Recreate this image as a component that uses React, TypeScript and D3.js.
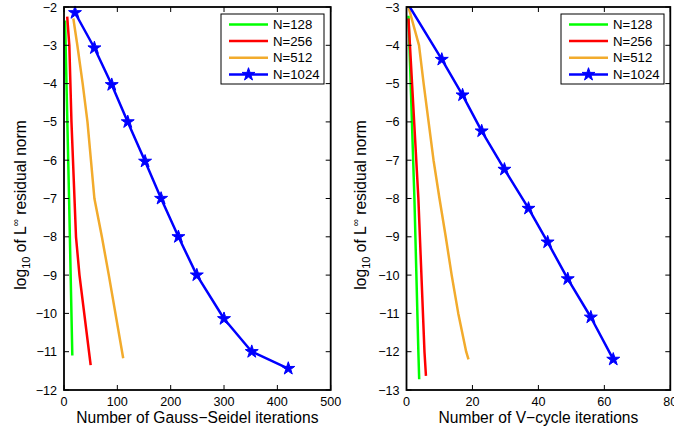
import React from "react";
import * as d3 from "d3";

// ---------- data ----------
const seriesNames = ["N=128", "N=256", "N=512", "N=1024"];
const seriesColors = ["#00ff00", "#ff0000", "#f2ab2c", "#0000ff"];

// Gauss-Seidel (left)
const gs128X = [2, 9.5, 15.6];
const gs128Y = [-2.35, -7, -11.1];
const gs256X = [6, 10, 14, 22.5, 29, 50];
const gs256Y = [-2.25, -3, -5, -8, -9, -11.35];
const gs512X = [17.5, 25, 35, 44, 50.5, 57, 71, 84, 111];
const gs512Y = [-2.3, -3, -4, -5, -6, -7, -8, -9, -11.17];
const gs1024X = [20.6, 57, 89.5, 119.5, 152, 182, 214.5, 249, 300, 352, 420.5];
const gs1024Y = [-2.15, -3.07, -4.03, -5.0, -6.03, -7.0, -8.0, -9.0, -10.14, -11.0, -11.44];

// V-cycle (right)
const vc128X = [0.6, 2.4, 3.6, 3.85];
const vc128Y = [-3.23, -8, -12, -12.72];
const vc256X = [0.6, 3.6, 5.45, 5.9];
const vc256Y = [-3.3, -8, -12, -12.63];
const vc512X = [0.6, 3.8, 5.2, 6.7, 8.2, 10, 11.9, 13.7, 15.7, 18.1, 18.8];
const vc512Y = [-3.0, -4, -5, -6, -7, -8, -9, -10, -11, -12, -12.2];
const vc1024X = [0.5, 10.7, 17, 22.8, 29.7, 37, 42.8, 48.9, 55.9, 62.7];
const vc1024Y = [-2.93, -4.37, -5.3, -6.24, -7.24, -8.26, -9.14, -10.1, -11.1, -12.2];

const gsXTicks = [0, 100, 200, 300, 400, 500];
const gsYTicks = [-12, -11, -10, -9, -8, -7, -6, -5, -4, -3, -2];
const vcXTicks = [0, 20, 40, 60, 80];
const vcYTicks = [-13, -12, -11, -10, -9, -8, -7, -6, -5, -4, -3];

const gsXLabel = "Number of Gauss\u2212Seidel iterations";
const vcXLabel = "Number of V\u2212cycle iterations";

const FONT = "'Liberation Sans', Arial, Helvetica, sans-serif";

type Series = { xs: number[]; ys: number[]; color: string; name: string; marker: boolean };

function fmt(v: number) {
  return v < 0 ? "\u2212" + Math.abs(v) : String(v);
}

function Panel(props: {
  id: string;
  x0: number;
  x1: number;
  xDomain: [number, number];
  yDomain: [number, number];
  xTicks: number[];
  yTicks: number[];
  series: Series[];
  xLabel: string;
  yLabelX: number;
  legendX: number;
}) {
  const top = 7;
  const bottom = 390;
  const x = d3.scaleLinear().domain(props.xDomain).range([props.x0, props.x1]);
  const y = d3.scaleLinear().domain(props.yDomain).range([bottom, top]);
  const line = d3
    .line<[number, number]>()
    .x((d) => x(d[0]))
    .y((d) => y(d[1]));
  const star = d3.symbol().type(d3.symbolStar).size(52)();
  const tl = 5;
  const legendW = 103;
  const legendH = 70;
  const lx = props.legendX;
  const ly = 14;
  const rowY = [24.5, 41, 57.7, 74.5];
  return (
    <g>
      <defs>
        <clipPath id={props.id}>
          <rect x={props.x0} y={top} width={props.x1 - props.x0} height={bottom - top} />
        </clipPath>
      </defs>
      {/* series */}
      <g clipPath={`url(#${props.id})`}>
        {props.series.map((s, i) => (
          <path
            key={i}
            d={line(s.xs.map((v, j) => [v, s.ys[j]] as [number, number])) || ""}
            fill="none"
            stroke={s.color}
            strokeWidth={2.5}
            strokeLinejoin="round"
          />
        ))}
      </g>
      {props.series
        .filter((s) => s.marker)
        .map((s, i) => (
          <g key={"m" + i}>
            {s.xs.map((v, j) =>
              s.ys[j] <= props.yDomain[1] ? (
                <path
                  key={j}
                  d={star || ""}
                  transform={`translate(${x(v)},${y(s.ys[j])})`}
                  fill={s.color}
                  stroke={s.color}
                  strokeWidth={1}
                />
              ) : null
            )}
          </g>
        ))}
      {/* axes box */}
      <rect
        x={props.x0}
        y={top}
        width={props.x1 - props.x0}
        height={bottom - top}
        fill="none"
        stroke="#000"
        strokeWidth={1.8}
      />
      {props.xTicks.map((t) => (
        <g key={"xt" + t}>
          <line x1={x(t)} x2={x(t)} y1={bottom} y2={bottom - tl} stroke="#000" strokeWidth={1} />
          <line x1={x(t)} x2={x(t)} y1={top} y2={top + tl} stroke="#000" strokeWidth={1} />
          <text x={x(t)} y={405.5} textAnchor="middle" fontSize={12.6} fontFamily={FONT} fill="#000">
            {fmt(t)}
          </text>
        </g>
      ))}
      {props.yTicks.map((t) => (
        <g key={"yt" + t}>
          <line x1={props.x0} x2={props.x0 + tl} y1={y(t)} y2={y(t)} stroke="#000" strokeWidth={1} />
          <line x1={props.x1} x2={props.x1 - tl} y1={y(t)} y2={y(t)} stroke="#000" strokeWidth={1} />
          <text
            x={props.x0 - 7}
            y={y(t) + 4.5}
            textAnchor="end"
            fontSize={12.6}
            fontFamily={FONT}
            fill="#000"
          >
            {fmt(t)}
          </text>
        </g>
      ))}
      {/* x label */}
      <text
        x={(props.x0 + props.x1) / 2}
        y={422.5}
        textAnchor="middle"
        fontSize={15.6}
        fontFamily={FONT}
        fill="#000"
      >
        {props.xLabel}
      </text>
      {/* y label */}
      <text
        transform={`translate(${props.yLabelX},205) rotate(-90)`}
        textAnchor="middle"
        fontSize={15.6}
        fontFamily={FONT}
        fill="#000"
      >
        log
        <tspan fontSize={11} dy={4}>
          10
        </tspan>
        <tspan dy={-4}> of L</tspan>
        <tspan fontSize={10} dy={-7}>
          {"\u221e"}
        </tspan>
        <tspan dy={7}> residual norm</tspan>
      </text>
      {/* legend */}
      <rect x={lx} y={ly} width={legendW} height={legendH} fill="#fff" stroke="#000" strokeWidth={1} />
      {props.series.map((s, i) => (
        <g key={"lg" + i}>
          <line
            x1={lx + 8}
            x2={lx + 47}
            y1={rowY[i]}
            y2={rowY[i]}
            stroke={s.color}
            strokeWidth={2.5}
          />
          {s.marker ? (
            <path
              d={star || ""}
              transform={`translate(${lx + 27.5},${rowY[i]})`}
              fill={s.color}
              stroke={s.color}
              strokeWidth={1}
            />
          ) : null}
          <text x={lx + 52} y={rowY[i] + 4.6} fontSize={13.2} fontFamily={FONT} fill="#000">
            {s.name}
          </text>
        </g>
      ))}
    </g>
  );
}

export default function App() {
  const gsSeries: Series[] = [
    { xs: gs128X, ys: gs128Y, color: seriesColors[0], name: seriesNames[0], marker: false },
    { xs: gs256X, ys: gs256Y, color: seriesColors[1], name: seriesNames[1], marker: false },
    { xs: gs512X, ys: gs512Y, color: seriesColors[2], name: seriesNames[2], marker: false },
    { xs: gs1024X, ys: gs1024Y, color: seriesColors[3], name: seriesNames[3], marker: true },
  ];
  const vcSeries: Series[] = [
    { xs: vc128X, ys: vc128Y, color: seriesColors[0], name: seriesNames[0], marker: false },
    { xs: vc256X, ys: vc256Y, color: seriesColors[1], name: seriesNames[1], marker: false },
    { xs: vc512X, ys: vc512Y, color: seriesColors[2], name: seriesNames[2], marker: false },
    { xs: vc1024X, ys: vc1024Y, color: seriesColors[3], name: seriesNames[3], marker: true },
  ];
  return (
    <svg
      width={674}
      height={433}
      style={{ position: "absolute", left: 0, top: 0, background: "#fff" }}
    >
      <rect x={0} y={0} width={674} height={433} fill="#fff" />
      <Panel
        id="clipL"
        x0={64}
        x1={330.7}
        xDomain={[0, 500]}
        yDomain={[-12, -2]}
        xTicks={gsXTicks}
        yTicks={gsYTicks}
        series={gsSeries}
        xLabel={gsXLabel}
        yLabelX={25.5}
        legendX={221}
      />
      <Panel
        id="clipR"
        x0={406.5}
        x1={670.3}
        xDomain={[0, 80]}
        yDomain={[-13, -3]}
        xTicks={vcXTicks}
        yTicks={vcYTicks}
        series={vcSeries}
        xLabel={vcXLabel}
        yLabelX={365.5}
        legendX={561}
      />
    </svg>
  );
}
